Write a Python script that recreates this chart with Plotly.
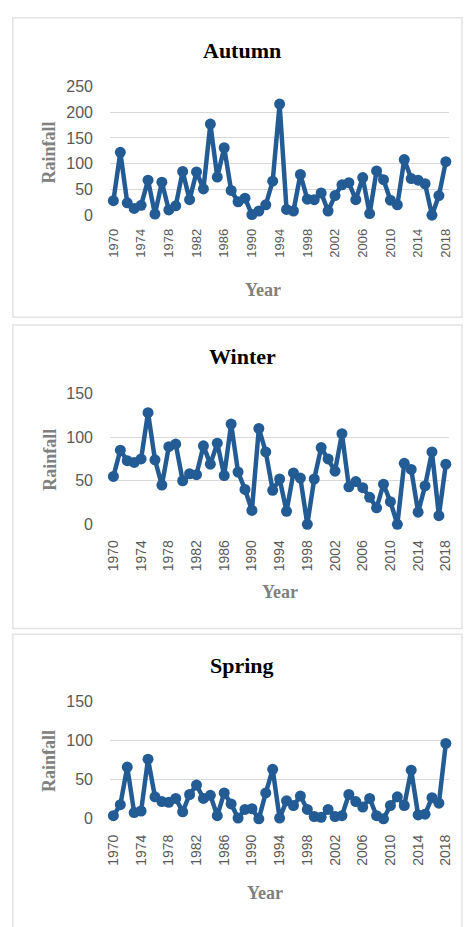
import plotly.graph_objects as go

# Seasonal rainfall, 1970-2018
years = list(range(1970, 2019))

autumn = [28, 122, 24, 13, 19, 68, 2, 64, 10, 18, 85, 30, 84, 51, 177, 74, 131,
          48, 26, 33, 1, 8, 20, 66, 216, 11, 8, 79, 31, 30, 43, 8, 38, 59, 63,
          30, 73, 3, 86, 69, 29, 20, 108, 71, 68, 61, 0, 38, 104]

winter = [55, 85, 73, 71, 75, 128, 74, 45, 89, 92, 50, 58, 57, 90, 69, 93, 56,
          115, 60, 40, 16, 110, 83, 39, 52, 15, 59, 53, 0, 52, 88, 75, 61, 104,
          43, 49, 42, 31, 19, 46, 26, 0, 70, 63, 14, 44, 83, 10, 69]

spring = [4, 18, 66, 8, 10, 76, 28, 22, 21, 26, 9, 31, 43, 26, 30, 4, 33, 19,
          1, 12, 13, 0, 33, 63, 1, 23, 17, 29, 12, 3, 2, 12, 3, 4, 31, 22, 15,
          26, 4, 0, 17, 28, 17, 62, 5, 6, 27, 20, 96]

panels = [
    ("Autumn", autumn, [0, 250], 50),
    ("Winter", winter, [0, 150], 50),
    ("Spring", spring, [0, 150], 50),
]

W, H = 468, 927
LINE = "#235B94"
GRID = "#d9d9d9"
TICK = "#595959"
AXT = "#808080"


def py(px):
    return 1 - px / H


def px_x(px):
    return px / W


# plot-area pixel boxes (top, bottom) for each panel
plot_boxes = [(80, 211), (392.7, 526), (706, 826)]
x_dom = [px_x(107), px_x(453)]
title_y = [43, 355, 670]
ylab_y = [147, 460, 767]
xlab_pos = [(263, 287), (280, 595), (265, 902)]
frames = [(8, 10, 466, 315), (8, 323, 466, 632), (8, 638, 466, 940)]
xtick_size = [13, 14, 14]
xtick_standoff = [10, 12, 12]

fig = go.Figure()
layout = dict(
    width=W, height=H,
    margin=dict(l=0, r=0, t=0, b=0),
    paper_bgcolor="white", plot_bgcolor="white",
    showlegend=False,
    annotations=[], shapes=[],
)

for k, (name, vals, yr, dt) in enumerate(panels):
    n = "" if k == 0 else str(k + 1)
    fig.add_trace(go.Scatter(
        x=years, y=vals, mode="lines+markers",
        line=dict(color=LINE, width=4.5),
        marker=dict(color=LINE, size=11),
        xaxis="x" + n, yaxis="y" + n,
        cliponaxis=False, hoverinfo="skip",
    ))
    top, bot = plot_boxes[k]
    layout["xaxis" + n] = dict(
        domain=x_dom, anchor="y" + n, range=[1969.5, 2018.5],
        tickvals=list(range(1970, 2019, 4)), tickangle=-90,
        showgrid=False, zeroline=False, showline=False,
        ticks="", ticklabelstandoff=xtick_standoff[k],
        tickfont=dict(family="Liberation Sans", size=xtick_size[k], color=TICK),
    )
    layout["yaxis" + n] = dict(
        domain=[py(bot), py(top)], anchor="x" + n, range=yr,
        dtick=dt, tick0=0, showgrid=True, gridcolor=GRID, gridwidth=1,
        zeroline=False, showline=False, ticks="", ticklabelstandoff=16,
        tickfont=dict(family="Liberation Sans", size=16, color=TICK),
    )
    layout["annotations"] += [
        dict(text="<b>%s</b>" % name, x=px_x(242), y=py(title_y[k]),
             xref="paper", yref="paper", showarrow=False,
             xanchor="center", yanchor="middle",
             font=dict(family="Liberation Serif", size=22, color="black")),
        dict(text="<b>Rainfall</b>", x=px_x(45), y=py(ylab_y[k]),
             xref="paper", yref="paper", showarrow=False, textangle=-90,
             xanchor="center", yanchor="middle",
             font=dict(family="Liberation Serif", size=18, color=AXT)),
        dict(text="<b>Year</b>", x=px_x(xlab_pos[k][0]), y=py(xlab_pos[k][1]),
             xref="paper", yref="paper", showarrow=False,
             xanchor="center", yanchor="middle",
             font=dict(family="Liberation Serif", size=18, color=AXT)),
    ]
    x0, y0, x1, y1 = frames[k]
    layout["shapes"].append(dict(
        type="rect", xref="paper", yref="paper",
        x0=px_x(x0), x1=px_x(x1), y0=py(y1), y1=py(y0),
        line=dict(color="#e4e4e4", width=1.5), layer="below",
    ))

fig.update_layout(**layout)
fig.write_html("out.html")
